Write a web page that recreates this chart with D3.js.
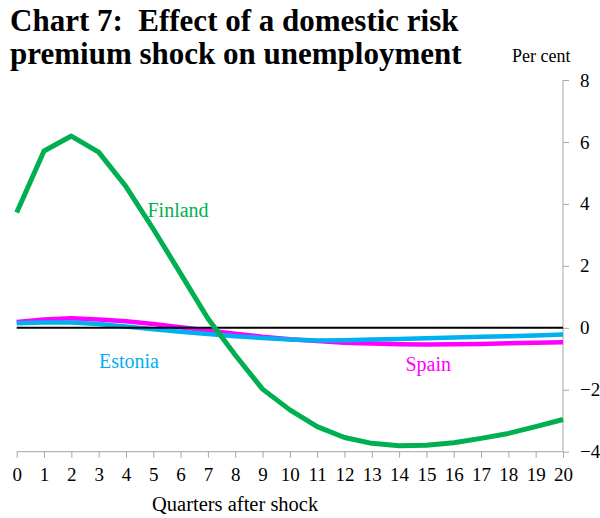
<!DOCTYPE html>
<html><head><meta charset="utf-8">
<script src="https://cdn.jsdelivr.net/npm/d3@7"></script>
<style>body{margin:0;background:#fff}svg{display:block}</style>
</head><body>
<script>
const quarters = d3.range(0, 21);
const finland = [3.72,5.71,6.19,5.67,4.56,3.19,1.75,0.30,-0.88,-1.98,-2.65,-3.19,-3.54,-3.73,-3.81,-3.79,-3.71,-3.57,-3.41,-3.19,-2.96];
const estonia = [0.15,0.17,0.17,0.12,0.04,-0.05,-0.13,-0.20,-0.27,-0.33,-0.38,-0.41,-0.40,-0.38,-0.36,-0.34,-0.31,-0.29,-0.27,-0.25,-0.22];
const spain = [0.19,0.27,0.31,0.27,0.21,0.12,0.02,-0.09,-0.19,-0.29,-0.37,-0.43,-0.48,-0.51,-0.53,-0.54,-0.53,-0.52,-0.50,-0.48,-0.47];
const yTicks = [-4,-2,0,2,4,6,8];
const titleLines = ["Chart 7:  Effect of a domestic risk","premium shock on unemployment"];

const W = 600, H = 518;
const svg = d3.select("body").append("svg").attr("width", W).attr("height", H);
const x = d3.scaleLinear().domain([0,20]).range([16.7,563]);
const y = d3.scaleLinear().domain([-4,8]).range([451.7,80]);
const serif = "'Liberation Serif','Times New Roman',serif";
const axisCol = "#a6a6a6";

// title
svg.append("text").attr("font-family", serif).attr("font-weight","bold").attr("font-size",31).attr("fill","#000")
  .selectAll("tspan").data(titleLines).join("tspan")
  .attr("x",10).attr("y",(d,i)=>31+i*33).style("white-space","pre").text(d=>d);

svg.append("text").attr("x",512).attr("y",62).attr("font-family",serif).attr("font-size",18).text("Per cent");

// right axis
const yAxis = d3.axisRight(y).tickValues(yTicks).tickSize(6).tickPadding(11).tickFormat(d3.format("d"));
const gy = svg.append("g").attr("transform","translate(563,0)").call(yAxis);
gy.select(".domain").attr("stroke",axisCol).attr("d",`M0,${y(8)}V${y(-4)}`);
gy.selectAll(".tick line").attr("stroke",axisCol);
gy.selectAll(".tick text").attr("font-family",serif).attr("font-size",19).attr("fill","#000");

// bottom axis
const xAxis = d3.axisBottom(x).tickValues(quarters).tickSize(6).tickPadding(10).tickFormat(d3.format("d"));
const gx = svg.append("g").attr("transform",`translate(0,${y(-4)})`).call(xAxis);
gx.select(".domain").attr("stroke",axisCol).attr("d",`M${x(0)},0H${x(20)}`);
gx.selectAll(".tick line").attr("stroke",axisCol);
gx.selectAll(".tick text").attr("font-family",serif).attr("font-size",19).attr("fill","#000");

svg.append("text").attr("x",152).attr("y",511).attr("font-family",serif).attr("font-size",20.5).text("Quarters after shock");

const line = d3.line().x((d,i)=>x(quarters[i])).y(d=>y(d));
svg.append("path").datum(spain).attr("d",line).attr("fill","none").attr("stroke","#ff00ff").attr("stroke-width",4.5).attr("stroke-linejoin","round");
svg.append("path").datum(estonia).attr("d",line).attr("fill","none").attr("stroke","#00b0f0").attr("stroke-width",4.5).attr("stroke-linejoin","round");
svg.append("line").attr("x1",x(0)).attr("x2",x(20)).attr("y1",y(0)).attr("y2",y(0)).attr("stroke","#000").attr("stroke-width",2);
svg.append("path").datum(finland).attr("d",line).attr("fill","none").attr("stroke","#00b050").attr("stroke-width",5).attr("stroke-linejoin","round");

svg.append("text").attr("x",147.5).attr("y",216.5).attr("font-family",serif).attr("font-size",20).attr("fill","#00b050").text("Finland");
svg.append("text").attr("x",99).attr("y",367.5).attr("font-family",serif).attr("font-size",20).attr("fill","#00b0f0").text("Estonia");
svg.append("text").attr("x",405.5).attr("y",371).attr("font-family",serif).attr("font-size",20).attr("fill","#ff00ff").text("Spain");
</script>
</body></html>
